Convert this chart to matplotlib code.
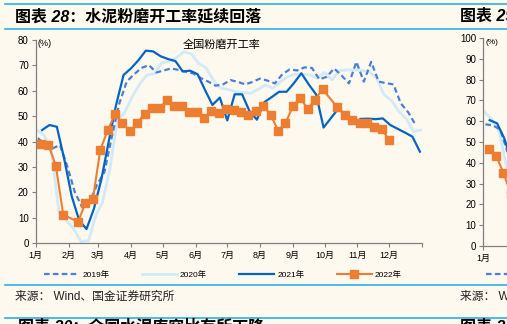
import pandas as pd
import numpy as np
import matplotlib
matplotlib.use("Agg")
from matplotlib import pyplot as plt
from matplotlib.lines import Line2D

plt.rcParams["font.family"] = ["Liberation Sans", "Noto Sans CJK SC"]

months = ["1月", "2月", "3月", "4月", "5月", "6月", "7月", "8月", "9月", "10月", "11月", "12月"]

# weekly grinding operating rate (%), dates as MM-DD
dates_2019 = ["01-03", "01-10", "01-17", "01-24", "01-31", "02-07", "02-14", "02-21", "02-28",
              "03-07", "03-14", "03-21", "03-28", "04-04", "04-11", "04-18", "04-25", "05-02",
              "05-09", "05-16", "05-23", "05-30", "06-06", "06-13", "06-20", "06-27", "07-04",
              "07-11", "07-18", "07-25", "08-01", "08-08", "08-15", "08-22", "08-29", "09-05",
              "09-12", "09-19", "09-26", "10-03", "10-10", "10-17", "10-24", "10-31", "11-07",
              "11-14", "11-21", "11-28", "12-05", "12-12", "12-19", "12-26"]
vals_2019 = [41.3, 38.8, 37.3, 38.6, 30.0, 20.0, 14.0, 16.0, 23.0,
             28.0, 42.0, 55.0, 63.6, 66.5, 69.0, 70.1, 67.2, 68.0,
             68.8, 68.2, 67.5, 66.8, 65.0, 63.6, 62.0, 62.5, 64.2,
             63.5, 62.5, 63.5, 64.8, 64.0, 62.9, 66.5, 68.4, 68.0,
             69.2, 69.0, 64.5, 65.5, 68.8, 66.0, 62.9, 71.4, 63.6,
             71.4, 63.6, 63.0, 62.5, 55.0, 51.5, 46.5]

dates_2020 = ["01-02", "01-09", "01-16", "01-23", "01-30", "02-06", "02-13", "02-20", "02-27",
              "03-05", "03-12", "03-19", "03-26", "04-02", "04-09", "04-16", "04-23", "04-30",
              "05-07", "05-14", "05-21", "05-28", "06-04", "06-11", "06-18", "06-25", "07-02",
              "07-09", "07-16", "07-23", "07-30", "08-06", "08-13", "08-20", "08-27", "09-03",
              "09-10", "09-17", "09-24", "10-01", "10-08", "10-15", "10-22", "10-29", "11-05",
              "11-12", "11-19", "11-26", "12-03", "12-10", "12-17", "12-24", "12-31"]
vals_2020 = [44.5, 42.5, 36.0, 12.0, 9.0, 5.5, 0.5, 1.0, 11.0,
             16.0, 29.0, 48.0, 51.5, 57.5, 62.5, 66.2, 66.7, 71.0,
             71.5, 73.0, 75.4, 74.5, 70.8, 69.0, 64.0, 61.0, 60.5,
             59.6, 59.3, 59.0, 60.5, 62.3, 61.0, 63.5, 65.5, 66.5,
             66.5, 66.2, 64.9, 67.2, 64.3, 68.0, 68.2, 68.2, 68.0,
             67.5, 65.0, 58.5, 56.2, 52.0, 49.0, 44.0, 44.5]

dates_2021 = ["01-07", "01-14", "01-21", "01-28", "02-04", "02-11", "02-18", "02-25", "03-04",
              "03-11", "03-18", "03-25", "04-01", "04-08", "04-15", "04-22", "04-29", "05-06",
              "05-13", "05-20", "05-27", "06-03", "06-10", "06-17", "06-24", "07-01", "07-08",
              "07-15", "07-22", "07-29", "08-05", "08-12", "08-19", "08-26", "09-02", "09-09",
              "09-16", "09-23", "09-30", "10-14", "10-21", "10-28", "11-04", "11-11", "11-18",
              "11-25", "12-02", "12-09", "12-16", "12-23", "12-30"]
vals_2021 = [44.5, 46.5, 45.8, 33.0, 18.5, 9.0, 5.5, 13.5, 25.0,
             40.0, 54.5, 66.2, 68.8, 72.0, 75.8, 75.5, 73.6, 72.5,
             71.7, 67.6, 67.9, 66.5, 60.3, 54.4, 57.3, 48.3, 58.6,
             58.6, 52.0, 48.6, 55.5, 57.5, 59.6, 59.6, 63.0, 66.9,
             62.5, 58.5, 45.5, 53.0, 50.4, 47.2, 48.9, 49.0, 48.8,
             49.1, 46.5, 45.0, 43.5, 41.9, 36.0]

dates_2022 = ["01-06", "01-13", "01-20", "01-27", "02-10", "02-17", "02-24", "03-03", "03-10",
              "03-17", "03-24", "03-31", "04-07", "04-14", "04-21", "04-28", "05-05", "05-12",
              "05-19", "05-26", "06-02", "06-09", "06-16", "06-23", "06-30", "07-07", "07-14",
              "07-21", "07-28", "08-04", "08-11", "08-18", "08-25", "09-01", "09-08", "09-15",
              "09-22", "09-29", "10-13", "10-20", "10-27", "11-03", "11-10", "11-17", "11-24",
              "12-01"]
vals_2022 = [39.0, 38.7, 30.5, 11.2, 8.3, 15.8, 17.2, 36.6, 44.4,
             50.8, 47.2, 44.1, 47.3, 51.0, 53.3, 53.3, 56.2, 54.1,
             53.9, 51.5, 51.5, 49.1, 51.9, 51.1, 52.8, 52.3, 51.8,
             50.6, 51.9, 53.9, 50.6, 44.3, 47.2, 53.9, 57.1, 52.9,
             56.5, 60.6, 53.5, 50.4, 48.6, 47.2, 47.2, 45.7, 44.9,
             40.5]

# next panel (only its first weeks fall inside the page)
r_dates_2019 = ["01-03", "01-10", "01-17", "01-24"]
r_vals_2019 = [58.5, 58.0, 56.0, 45.0]
r_dates_2020 = ["01-02", "01-09", "01-16", "01-23"]
r_vals_2020 = [64.5, 61.0, 55.0, 38.0]
r_dates_2021 = ["01-07", "01-14", "01-21", "01-28"]
r_vals_2021 = [60.5, 59.0, 51.5, 40.0]
r_dates_2022 = ["01-06", "01-13", "01-20", "01-27"]
r_vals_2022 = [46.7, 43.5, 35.2, 25.0]

years = ["2019年", "2020年", "2021年", "2022年"]


def to_x(md):
    # put every year on a common calendar axis
    return pd.to_datetime(["2022-" + s for s in md])


bg = "#FDF9EE"
sep = "#2BB0E6"
grey = "#808080"
styles = [
    dict(color="#4A7FD4", lw=1.6, dashes=(2.5, 1.5), zorder=3),
    dict(color="#D2EAF7", lw=2.0, zorder=2),
    dict(color="#0563C1", lw=1.6, zorder=4),
    dict(color="#ED7D31", lw=1.5, marker="s", markersize=5.5, zorder=5),
]

W, H = 507, 324
fig = plt.figure(figsize=(W / 100, H / 100), dpi=100, facecolor=bg)


def fx(x):
    return x / W


def fy(y):
    return 1 - y / H


ticks = list(pd.date_range("2022-01-01", "2023-01-01", freq="MS"))


def style_axes(ax, top, labels):
    ax.set_facecolor(bg)
    for s in ["top", "right"]:
        ax.spines[s].set_visible(False)
    for s in ["left", "bottom"]:
        ax.spines[s].set_color(grey)
        ax.spines[s].set_linewidth(0.9)
    ax.set_xlim(ticks[0], ticks[-1])
    ax.set_xticks(ticks)
    ax.set_xticklabels(labels + [""] * (len(ticks) - len(labels)))
    ax.set_ylim(0, top)
    ax.set_yticks(np.arange(0, top + 1, 10))
    ax.tick_params(direction="out", length=3, width=0.8, color=grey, pad=2, labelsize=7)
    ax.tick_params(axis="x", labelsize=6.5, pad=3)


# main panel
ax = fig.add_axes([fx(35.7), fy(243), fx(386.3), 203 / H])
style_axes(ax, 80, months)
series = [(dates_2019, vals_2019), (dates_2020, vals_2020), (dates_2021, vals_2021), (dates_2022, vals_2022)]
handles = []
for (d, v), st, lab in zip(series, styles, years):
    h, = ax.plot(to_x(d), v, label=lab, **st)
    handles.append(h)
ax.text(0.482, 0.975, "全国粉磨开工率", transform=ax.transAxes, ha="center", va="center", fontsize=8)
fig.text(fx(37), fy(44), "(%)", fontsize=6.5, va="center")

fig.legend(handles, years, loc="center", bbox_to_anchor=(fx(223), fy(275)), ncol=4, frameon=False,
           fontsize=6, handlelength=4.2, handletextpad=0.35, columnspacing=3.9)

# next panel, cut by the page edge
ax2 = fig.add_axes([fx(483.3), fy(246), fx(386.3), 208 / H])
style_axes(ax2, 100, months[:1])
r_series = [(r_dates_2019, r_vals_2019), (r_dates_2020, r_vals_2020),
            (r_dates_2021, r_vals_2021), (r_dates_2022, r_vals_2022)]
r_handles = []
for (d, v), st, lab in zip(r_series, styles, years):
    h, = ax2.plot(to_x(d), v, label=lab, **st)
    r_handles.append(h)
fig.text(fx(485), fy(43), "(%)", fontsize=6, va="center")
fig.legend(r_handles[:1], years[:1], loc="center left", bbox_to_anchor=(fx(486), fy(275)), frameon=False,
           fontsize=6, handlelength=4.2, handletextpad=0.35, borderpad=0, borderaxespad=0)

# page furniture: separators, captions, sources
for y in [4.3, 29.3, 285, 317.5]:
    fig.add_artist(Line2D([fx(5), 1], [fy(y), fy(y)], color=sep, lw=1.2, transform=fig.transFigure))

fig.text(fx(15), fy(16.5), "图表 28：水泥粉磨开工率延续回落", fontsize=11.5, fontweight="bold",
         style="italic", va="center")
fig.text(fx(460), fy(16.5), "图表 29", fontsize=11.5, fontweight="bold",
         style="italic", va="center")
fig.text(fx(15), fy(297), "来源： Wind、国金证券研究所", fontsize=8.5, va="center", color="#222222")
fig.text(fx(460), fy(297), "来源： Wind", fontsize=8.5, va="center", color="#222222")
fig.text(fx(18), fy(319.5), "图表 30：全国水泥库容比有所下降", fontsize=11.5, fontweight="bold",
         style="italic", va="top")
fig.text(fx(460), fy(319.5), "图表 31", fontsize=11.5, fontweight="bold",
         style="italic", va="top")

fig.savefig("out.png", dpi=100, facecolor=bg)
